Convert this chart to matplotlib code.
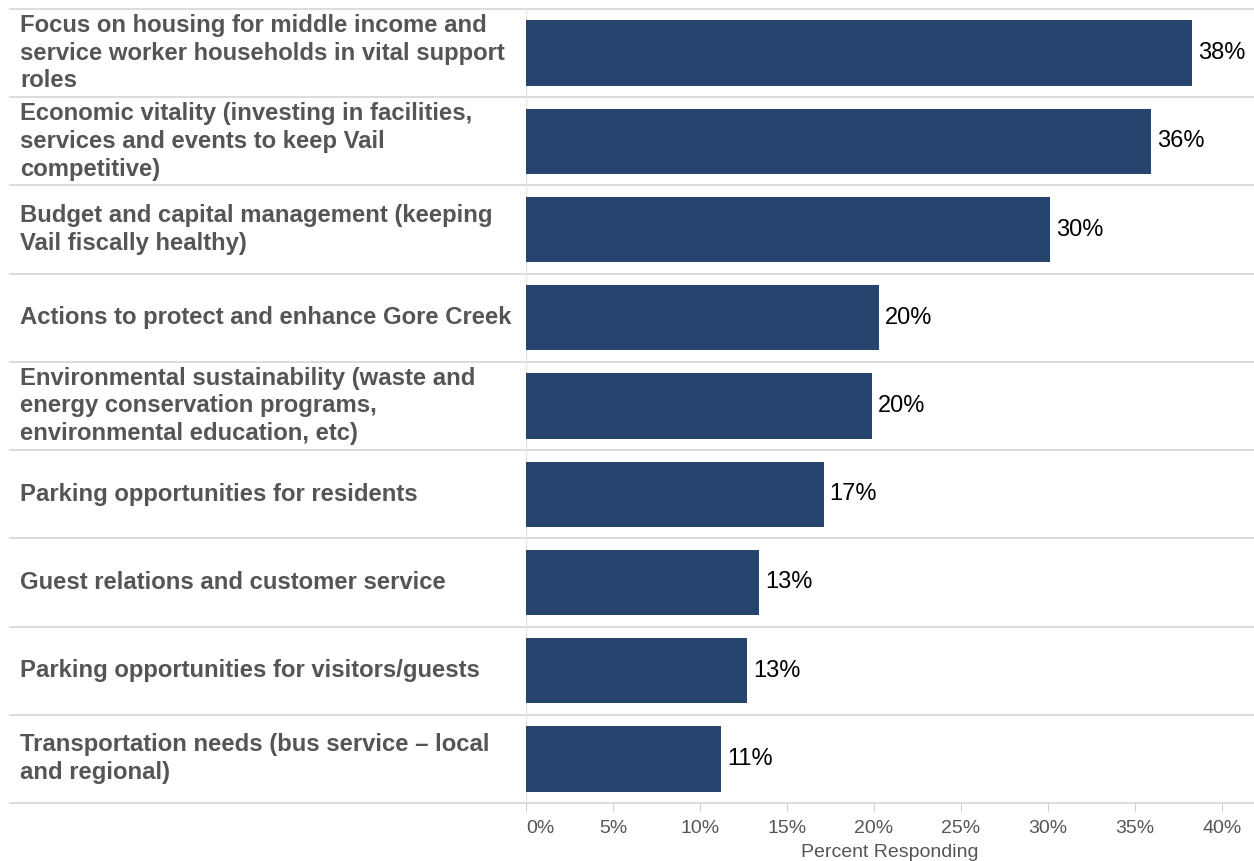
import matplotlib
matplotlib.use("Agg")
import matplotlib.pyplot as plt
from matplotlib.transforms import blended_transform_factory

plt.rcParams['font.family'] = ['Liberation Sans', 'DejaVu Sans']

categories = [
    "Focus on housing for middle income and\nservice worker households in vital support\nroles",
    "Economic vitality (investing in facilities,\nservices and events to keep Vail\ncompetitive)",
    "Budget and capital management (keeping\nVail fiscally healthy)",
    "Actions to protect and enhance Gore Creek",
    "Environmental sustainability (waste and\nenergy conservation programs,\nenvironmental education, etc)",
    "Parking opportunities for residents",
    "Guest relations and customer service",
    "Parking opportunities for visitors/guests",
    "Transportation needs (bus service \u2013 local\nand regional)",
]
values = [38.3, 35.9, 30.1, 20.3, 19.9, 17.1, 13.4, 12.7, 11.2]
value_labels = ["38%", "36%", "30%", "20%", "20%", "17%", "13%", "13%", "11%"]
xticks = [0, 5, 10, 15, 20, 25, 30, 35, 40]
xtick_labels = ["0%", "5%", "10%", "15%", "20%", "25%", "30%", "35%", "40%"]

W, H = 1254, 861
fig = plt.figure(figsize=(W / 100, H / 100), dpi=100)
ax = fig.add_axes([526 / W, 1 - 803 / H, (W - 526) / W, (803 - 9) / H])

bar_color = "#26456e"
grid_color = "#d9d9d9"

ypos = list(range(len(categories)))
ax.barh(ypos, values, height=0.74, color=bar_color, zorder=2)
ax.set_ylim(len(categories) - 0.5, -0.5)
ax.set_xlim(0, 40 * (W - 526) / (1222 - 526))

for y, v, lab in zip(ypos, values, value_labels):
    ax.text(v + 0.35, y, lab, va="center", ha="left", fontsize=17, color="black")

# row labels and separators spanning into the label column
left_edge = (10 - 526) / (W - 526)
label_x = (20 - 526) / (W - 526)
trans = blended_transform_factory(ax.transAxes, ax.transData)
for y, cat in zip(ypos, categories):
    ax.text(label_x, y, cat, transform=trans, ha="left", va="center",
            fontsize=17.2, fontweight="bold", color="#555555", linespacing=1.27)
for i in range(len(categories) + 1):
    ax.plot([left_edge, 1], [i - 0.5, i - 0.5], transform=trans, color=grid_color,
            lw=1.3, clip_on=False, zorder=1)

ax.axvline(0, color="#e3e3e3", lw=1.0, zorder=1)

for s in ax.spines.values():
    s.set_visible(False)
ax.set_yticks([])
ax.set_xticks(xticks)
ax.set_xticklabels(xtick_labels, fontsize=14, color="#555555")
ax.get_xticklabels()[0].set_horizontalalignment("left")
ax.tick_params(axis="x", length=6, width=0.8, color="#d0d0d0", pad=6)
ax.set_xlabel("Percent Responding", fontsize=14, color="#555555", labelpad=5)

fig.savefig("out.png", dpi=100)
